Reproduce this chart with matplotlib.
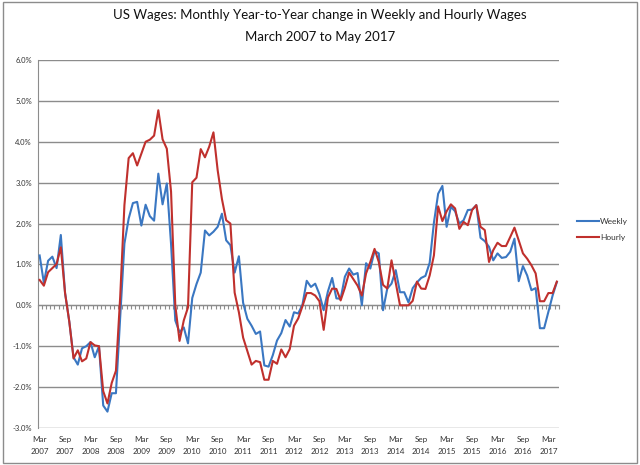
import numpy as np
import matplotlib
matplotlib.use('Agg')
import matplotlib.pyplot as plt
from matplotlib.ticker import FuncFormatter, MultipleLocator
from matplotlib.patches import Rectangle

# Year-to-year change (%), monthly, March 2007 .. May 2017
weekly = [1.22, 0.55, 1.09, 1.19, 0.91, 1.72, 0.30, -0.40, -1.27, -1.45,
          -1.05, -1.00, -0.90, -1.27, -1.00, -2.45, -2.60, -2.15, -2.15, -0.30,
          1.51, 2.12, 2.50, 2.53, 1.95, 2.46, 2.18, 2.07, 3.22, 2.47,
          2.98, 1.50, -0.37, -0.66, -0.54, -0.93, 0.18, 0.52, 0.80, 1.83,
          1.71, 1.80, 1.92, 2.24, 1.59, 1.47, 0.80, 1.20, 0.06, -0.33,
          -0.50, -0.70, -0.64, -1.47, -1.50, -1.22, -0.86, -0.68, -0.36, -0.52,
          -0.17, -0.20, 0.02, 0.60, 0.45, 0.53, 0.27, -0.12, 0.34, 0.67,
          0.17, 0.16, 0.70, 0.90, 0.75, 0.79, 0.00, 1.03, 0.90, 1.33,
          1.27, -0.12, 0.41, 0.53, 0.86, 0.32, 0.32, 0.07, 0.42, 0.56,
          0.67, 0.72, 1.04, 2.02, 2.73, 2.92, 1.92, 2.41, 2.30, 2.00,
          2.08, 2.33, 2.34, 2.45, 1.65, 1.57, 1.43, 1.10, 1.27, 1.16,
          1.18, 1.31, 1.63, 0.59, 0.96, 0.73, 0.37, 0.42, -0.56, -0.56,
          -0.16, 0.24, 0.57]

hourly = [0.62, 0.48, 0.81, 0.91, 1.01, 1.42, 0.30, -0.40, -1.30, -1.10,
          -1.37, -1.30, -0.90, -0.98, -1.00, -2.10, -2.40, -1.90, -1.60, 0.20,
          2.45, 3.60, 3.72, 3.42, 3.71, 4.00, 4.05, 4.15, 4.77, 4.06,
          3.83, 2.78, 0.00, -0.87, -0.37, -0.05, 3.01, 3.12, 3.82, 3.62,
          3.88, 4.23, 3.30, 2.60, 2.08, 2.00, 0.31, -0.17, -0.79, -1.12,
          -1.45, -1.36, -1.39, -1.82, -1.82, -1.36, -1.43, -1.08, -1.27, -1.07,
          -0.50, -0.32, -0.02, 0.30, 0.30, 0.24, 0.10, -0.60, 0.19, 0.41,
          0.40, 0.12, 0.43, 0.80, 0.64, 0.48, 0.24, 0.78, 1.06, 1.38,
          1.06, 0.50, 0.41, 1.10, 0.55, 0.00, 0.00, 0.00, 0.11, 0.58,
          0.41, 0.40, 0.73, 1.22, 2.42, 2.06, 2.30, 2.47, 2.37, 1.87,
          2.04, 1.96, 2.33, 2.45, 1.92, 1.84, 1.06, 1.35, 1.53, 1.45,
          1.45, 1.67, 1.90, 1.59, 1.27, 1.14, 0.98, 0.78, 0.10, 0.10,
          0.30, 0.30, 0.58]

months = ['Mar', 'Sep']
years = list(range(2007, 2018))
tick_labels = []
for y in years:
    for m in months:
        if y == 2017 and m == 'Sep':
            continue
        tick_labels.append(f'{m}\n{y}')

title = ('US Wages: Monthly Year-to-Year change in Weekly and Hourly Wages\n'
         'March 2007 to May 2017')

blue = '#3a77c2'
red = '#c0302d'
grid_c = '#8c8c8c'
font = 'Lato'

fig = plt.figure(figsize=(6.4, 4.65), dpi=100)
ax = fig.add_axes([0.0586, 0.0796, 0.8148, 0.7914])

x = np.arange(len(weekly))
ax.plot(x, weekly, color=blue, lw=1.5, label='Weekly', zorder=3)
ax.plot(x, hourly, color=red, lw=1.5, label='Hourly', zorder=4)

ax.set_xlim(-0.5, len(weekly) - 0.5)
ax.set_ylim(-3, 6)
ax.yaxis.set_major_locator(MultipleLocator(1))
ax.yaxis.set_major_formatter(FuncFormatter(lambda v, p: f'{v:.1f}%'))
ax.grid(axis='y', color=grid_c, lw=1)
ax.set_axisbelow(True)

for s in ['top', 'right']:
    ax.spines[s].set_visible(False)
ax.spines['left'].set_color(grid_c)
ax.spines['bottom'].set_position(('data', 0))
ax.spines['bottom'].set_color(grid_c)

# category tick marks along the zero line
ax.set_xticks(np.arange(-0.5, len(weekly), 1))
ax.tick_params(axis='x', length=3, color=grid_c, labelbottom=False, direction='out')
ax.tick_params(axis='y', length=0, labelsize=5.5, colors='#333333', pad=4)
for t in ax.get_yticklabels():
    t.set_family(font)

sec = ax.secondary_xaxis(0.0)
sec.set_xticks(np.arange(0, len(weekly), 6))
sec.set_xticklabels(tick_labels, fontsize=5.8, family=font, color='#333333',
                    linespacing=1.75)
sec.tick_params(length=0, pad=6)
sec.spines['bottom'].set_visible(False)

fig.text(0.5, 0.98, title, ha='center', va='top', fontsize=9.5,
         family=font, linespacing=2.0, color='#111111')

leg = ax.legend(loc='center left', bbox_to_anchor=(1.02, 0.54), frameon=False,
                fontsize=6, handlelength=2.6, handletextpad=0.2,
                labelspacing=1.1)
for t in leg.get_texts():
    t.set_family(font)
    t.set_color('#333333')

fig.patches.append(Rectangle((0.004, 0.004), 0.992, 0.992, transform=fig.transFigure,
                             fill=False, edgecolor='#8c8c8c', lw=1))

fig.savefig('out.png', dpi=100)
